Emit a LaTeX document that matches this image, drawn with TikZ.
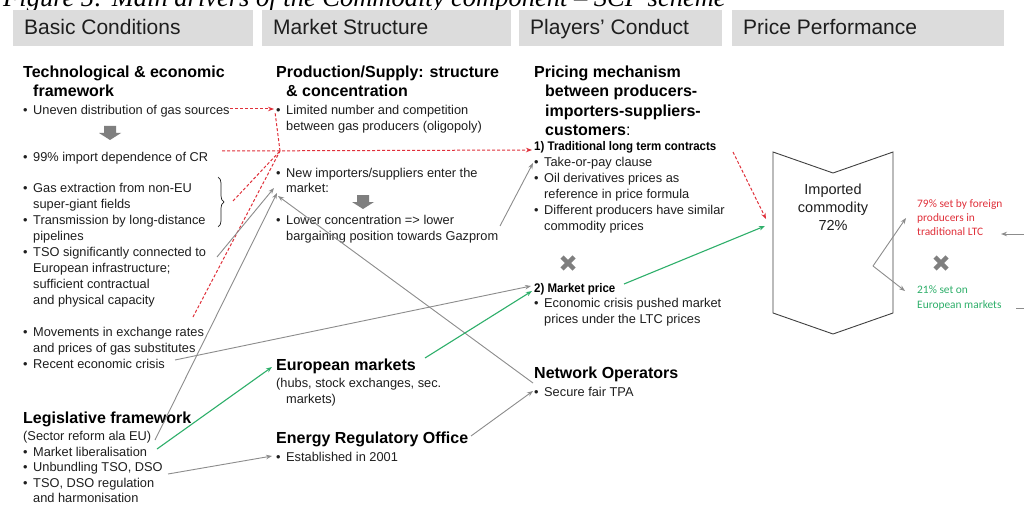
\documentclass[tikz,border=0pt]{standalone}
\usepackage{fontspec}
\setmainfont{Liberation Sans}
\newfontfamily\capfont{Liberation Serif}
\newfontfamily\narrowfont[FakeStretch=0.92]{Liberation Sans}
\newfontfamily\calfont{Carlito}
\usetikzlibrary{arrows.meta,decorations.pathreplacing}
\definecolor{hdrgray}{HTML}{DCDCDC}
\definecolor{txt}{HTML}{1E1E1E}
\definecolor{redd}{HTML}{E0303A}
\definecolor{grn}{HTML}{2EAF6A}
\definecolor{arrg}{HTML}{8C8C8C}
\definecolor{blkg}{HTML}{7F7F7F}
\definecolor{boxline}{HTML}{404040}
\newcommand{\myb}{\makebox[10pt][l]{\textbullet}}
\newcommand{\myi}{\hspace*{10pt}}
\begin{document}
\begin{tikzpicture}[x=1pt,y=-1pt,
  hdrbox/.style={fill=hdrgray, draw=none, anchor=north west, inner sep=0pt, minimum height=36pt},
  hdrtxt/.style={anchor=base west, inner sep=0pt, font=\fontsize{21}{24}\selectfont, text=txt},
  bodyf/.style={anchor=base west, inner sep=0pt, font=\fontsize{12.8}{16}\selectfont, text=txt},
  headf/.style={anchor=base west, inner sep=0pt, font=\fontsize{16}{19}\selectfont\bfseries, text=black},
  smallbold/.style={anchor=base west, inner sep=0pt, font=\narrowfont\bfseries\fontsize{12.5}{15}\selectfont, text=black},
  calred/.style={anchor=base west, inner sep=0pt, font=\calfont\fontsize{11.4}{14}\selectfont, text=redd},
  calgreen/.style={anchor=base west, inner sep=0pt, font=\calfont\fontsize{11.4}{15}\selectfont, text=grn},
  garrow/.style={draw=arrg, line width=0.9pt, -{Stealth[length=6pt,width=4.5pt]}},
  gline/.style={draw=arrg, line width=0.9pt},
  grnarrow/.style={draw=grn, line width=1.1pt, -{Stealth[length=6pt,width=4.5pt]}},
  redarrow/.style={draw=redd, line width=1pt, dash pattern=on 3pt off 2pt, -{Stealth[length=6pt,width=4.5pt]}},
  redline/.style={draw=redd, line width=1pt, dash pattern=on 3pt off 2pt},
  blockarrow/.style={fill=blkg, draw=none},
  xmark/.style={draw=blkg, line width=4.5pt}
]
\useasboundingbox (0,0) rectangle (1024,505);
\clip (0,0) rectangle (1024,505);
\fill[white] (0,0) rectangle (1024,505);

% caption (cut off at top, as in the reference)
\node[anchor=base west, inner sep=0pt, font=\capfont\itshape\fontsize{26.5}{30}\selectfont, text=black] (cap) at (3,6.5) {Figure 5: Main drivers of the Commodity component – SCP scheme};

% headers
\node[hdrbox, minimum width=240.3pt] (hb1) at (12.7,10) {};
\node[hdrbox, minimum width=249pt] (hb2) at (262,10) {};
\node[hdrbox, minimum width=203pt] (hb3) at (519,10) {};
\node[hdrbox, minimum width=272pt] (hb4) at (732,10) {};
\node[hdrtxt] (ht1) at (24,35) {Basic Conditions};
\node[hdrtxt] (ht2) at (273,35) {Market Structure};
\node[hdrtxt] (ht3) at (530,35) {Players’ Conduct};
\node[hdrtxt] (ht4) at (743,35) {Price Performance};

% column 1
\node[headf] (tech) at (23,77.5) {\begin{tabular}[t]{@{}l@{}}Technological \& economic\\\myi framework\end{tabular}};
\node[bodyf] (uneven) at (23,114.5) {\myb Uneven distribution of gas sources};
\node[bodyf] (import) at (23,161) {\myb 99\% import dependence of CR};
\node[bodyf] (gasext) at (23,192.5) {\begin{tabular}[t]{@{}l@{}}\myb Gas extraction from non-EU\\\myi super-giant fields\\\myb Transmission by long-distance\\\myi pipelines\\\myb TSO significantly connected to\\\myi European infrastructure;\\\myi sufficient contractual\\\myi and physical capacity\end{tabular}};
\node[bodyf] (movem) at (23,336) {\begin{tabular}[t]{@{}l@{}}\myb Movements in exchange rates\\\myi and prices of gas substitutes\\\myb Recent economic crisis\end{tabular}};
\node[headf] (legis) at (23,423.5) {Legislative framework};
\node[bodyf, font=\fontsize{12.8}{15.6}\selectfont] (legitems) at (23,440.5) {\begin{tabular}[t]{@{}l@{}}(Sector reform ala EU)\\\myb Market liberalisation\\\myb Unbundling TSO, DSO\\\myb TSO, DSO regulation\\\myi and harmonisation\end{tabular}};

% column 2
\node[headf] (prod) at (276,77.5) {\begin{tabular}[t]{@{}l@{}}Production/Supply: structure\\\myi \& concentration\end{tabular}};
\node[bodyf] (limited) at (276,114.5) {\begin{tabular}[t]{@{}l@{}}\myb Limited number and competition\\\myi between gas producers (oligopoly)\end{tabular}};
\node[bodyf] (newimp) at (276,177) {\begin{tabular}[t]{@{}l@{}}\myb New importers/suppliers enter the\\\myi market:\end{tabular}};
\node[bodyf] (lower) at (276,224.5) {\begin{tabular}[t]{@{}l@{}}\myb Lower concentration => lower\\\myi bargaining position towards Gazprom\end{tabular}};
\node[headf] (eumk) at (276,370.5) {European markets};
\node[bodyf] (hubs) at (276,387.5) {\begin{tabular}[t]{@{}l@{}}(hubs, stock exchanges, sec.\\\myi markets)\end{tabular}};
\node[headf] (ero) at (276,443.5) {Energy Regulatory Office};
\node[bodyf] (estab) at (276,461.5) {\myb Established in 2001};

% column 3
\node[headf, font=\fontsize{16}{19.5}\selectfont\bfseries] (pricing) at (534,77.5) {\begin{tabular}[t]{@{}l@{}}Pricing mechanism\\\hspace*{11pt}between producers-\\\hspace*{11pt}importers-suppliers-\\\hspace*{11pt}customers{\mdseries:}\end{tabular}};
\node[smallbold] (ltc) at (534,151) {1) Traditional long term contracts};
\node[bodyf] (top) at (534,166.8) {\begin{tabular}[t]{@{}l@{}}\myb Take-or-pay clause\\\myb Oil derivatives prices as\\\myi reference in price formula\\\myb Different producers have similar\\\myi commodity prices\end{tabular}};
\node[smallbold] (mkp) at (534,292) {2) Market price};
\node[bodyf] (econ) at (534,307.5) {\begin{tabular}[t]{@{}l@{}}\myb Economic crisis pushed market\\\myi prices under the LTC prices\end{tabular}};
\node[headf] (netop) at (534,378.5) {Network Operators};
\node[bodyf] (tpa) at (534,396.5) {\myb Secure fair TPA};

% column 4
\draw[draw=boxline, line width=0.9pt] (773,152) -- (833,173) -- (893,152) -- (893,313) -- (833,334) -- (773,313) -- cycle;
\node[anchor=base, inner sep=0pt, font=\fontsize{14.5}{18}\selectfont, text=txt] (imptxt) at (833,194.5) {\begin{tabular}[t]{@{}c@{}}Imported\\commodity\\72\%\end{tabular}};
\node[calred] (r79) at (917,207.5) {\begin{tabular}[t]{@{}l@{}}79\% set by foreign\\producers in\\traditional LTC\end{tabular}};
\node[calgreen] (g21) at (917,293.5) {\begin{tabular}[t]{@{}l@{}}21\% set on\\European markets\end{tabular}};

% block arrows, x marks, brace
\fill[blockarrow] (104,126) -- (116,126) -- (116,133) -- (121,133) -- (110,140) -- (99,133) -- (104,133) -- cycle;
\fill[blockarrow] (357,195) -- (369,195) -- (369,202) -- (374,202) -- (363,209) -- (352,202) -- (357,202) -- cycle;
\draw[xmark] (562,257) -- (574,269) (562,269) -- (574,257);
\draw[xmark] (935,257) -- (947,269) (935,269) -- (947,257);
\draw[decorate, decoration={brace, amplitude=6pt}, draw=txt, line width=0.7pt] (218,177) -- (218,227);

% connector end points
\coordinate (cUnevenE) at (230,109);
\coordinate (cLimited) at (274,109);
\coordinate (cImportE) at (222,151);
\coordinate (cLTC) at (532,150);
\coordinate (cJoin) at (280,151);
\coordinate (cLimLow) at (275,112);
\coordinate (cBrace) at (233,201);
\coordinate (cMovem) at (193,317);
\coordinate (cLTCr) at (733,152);
\coordinate (cBoxA) at (766,219);
\coordinate (cTSO) at (217,257);
\coordinate (cNew1) at (274,188);
\coordinate (cLegis) at (155,440);
\coordinate (cNew2) at (277,193);
\coordinate (cCrisis) at (175,360);
\coordinate (cMkp) at (531,286);
\coordinate (cNet) at (533,383);
\coordinate (cNew3) at (278,196);
\coordinate (cEro) at (471,436);
\coordinate (cTpa) at (533,391);
\coordinate (cUnb) at (168,474);
\coordinate (cEst) at (272,456);
\coordinate (cLower) at (500,226);
\coordinate (cTop) at (533,163);
\coordinate (cLib) at (157,449);
\coordinate (cEu) at (272,367);
\coordinate (cEuE) at (425,358);
\coordinate (cMkp2) at (532,291);
\coordinate (cMkpE) at (624,284);
\coordinate (cBoxB) at (765,226);
\coordinate (cV) at (873,266);
\coordinate (c79) at (906,218);
\coordinate (c21) at (905,291);
\coordinate (cRin) at (1024,234);
\coordinate (cRend) at (1001,234);
\coordinate (cR2a) at (1016,308);
\coordinate (cR2b) at (1024,308);

% red dashed connectors
\draw[redarrow] (cUnevenE) -- (cLimited);
\draw[redarrow] (cImportE) -- (cLTC);
\draw[redline] (cJoin) -- (cLimLow);
\draw[redline] (cBrace) -- (cJoin);
\draw[redline] (cMovem) -- (cJoin);
\draw[redarrow] (cLTCr) -- (cBoxA);

% gray connectors
\draw[garrow] (cTSO) -- (cNew1);
\draw[garrow] (cLegis) -- (cNew2);
\draw[garrow] (cCrisis) -- (cMkp);
\draw[garrow] (cNet) -- (cNew3);
\draw[garrow] (cEro) -- (cTpa);
\draw[garrow] (cUnb) -- (cEst);
\draw[garrow] (cLower) -- (cTop);
\draw[garrow] (cV) -- (c79);
\draw[garrow] (cV) -- (c21);
\draw[garrow] (cRin) -- (cRend);
\draw[gline] (cR2a) -- (cR2b);

% green connectors
\draw[grnarrow] (cLib) -- (cEu);
\draw[grnarrow] (cEuE) -- (cMkp2);
\draw[grnarrow] (cMkpE) -- (cBoxB);
\end{tikzpicture}
\end{document}
